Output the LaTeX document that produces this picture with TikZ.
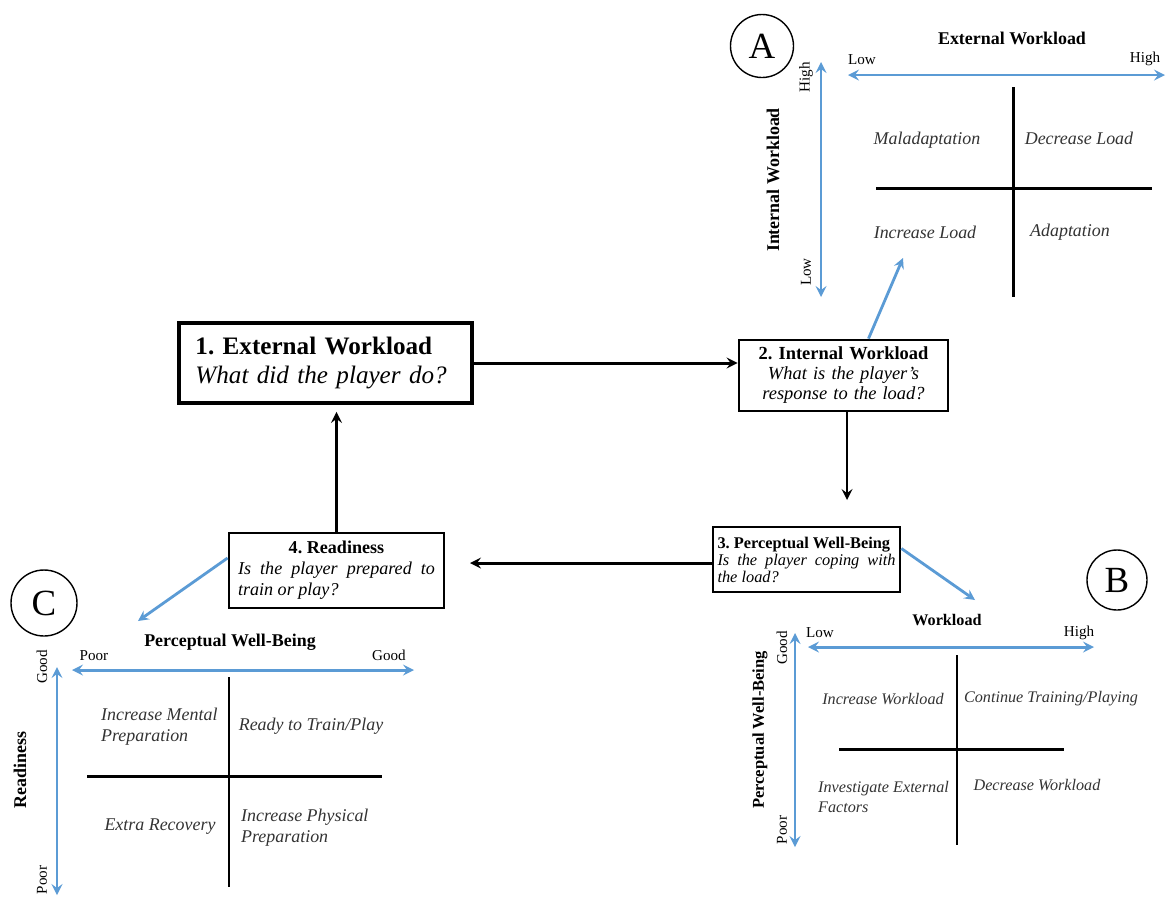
\documentclass[tikz,border=0pt]{standalone}
\usepackage{fontspec}
\setmainfont{Liberation Serif}
\usetikzlibrary{positioning}
\definecolor{axisblue}{RGB}{91,155,213}
\frenchspacing
\tikzset{
  box/.style={draw, fill=white, line width=1.6pt, inner xsep=0.6mm},
  flow/.style={->, line width=1.7pt},
  link/.style={->, axisblue, line width=1.6pt},
  axis/.style={<->, axisblue, line width=1.7pt},
  quad/.style={line width=1.7pt},
  panel/.style={circle, draw, line width=0.8pt, minimum size=12.6mm, inner sep=0pt,
    font=\fontsize{21}{21}\selectfont},
  ttl/.style={font=\fontsize{10.2}{12}\selectfont\bfseries},
  endlbl/.style={font=\fontsize{8.6}{10}\selectfont},
  cell/.style={font=\fontsize{10.2}{12}\selectfont\itshape, align=left, text=black!80},
  cellb/.style={font=\fontsize{9.2}{11}\selectfont\itshape, align=left, text=black!80}
}
\begin{document}
\begin{tikzpicture}[x=0.2mm,y=-0.2mm,>=stealth]
  \useasboundingbox (0,0) rectangle (1167,897);
  % cycle of the four boxes
  \node[box, line width=2.2pt, minimum width=58.6mm, minimum height=16mm, text width=52mm, align=left,
    font=\fontsize{14.3}{17}\selectfont] (extload) at (325.5,363)
    {\textbf{1. External Workload}\\\textit{What did the player do?}};
  \node[box, minimum width=41.8mm, minimum height=14.2mm, text width=39mm, align=center,
    font=\fontsize{10.5}{11.4}\selectfont] (intload) at (843.5,375.5)
    {\textbf{2. Internal Workload}\\\textit{What is the player’s}\\\textit{response to the load?}};
  \node[box, minimum width=37.4mm, minimum height=13mm, text width=35.6mm, align=justify,
    font=\fontsize{9.3}{9.7}\selectfont] (wellbeing) at (806.5,559.5)
    {\textbf{3. Perceptual Well-Being}\par\itshape Is the player coping with\linebreak the load?};
  \node[box, minimum width=43mm, minimum height=15mm, text width=39.4mm, align=justify,
    font=\fontsize{10.3}{11.9}\selectfont] (readiness) at (336.5,570.5)
    {{\centering\bfseries 4. Readiness\par}\itshape Is the player prepared to\linebreak train or play?};
  \coordinate (bend) at (847,500);
  \coordinate (stop4) at (470,563);
  \draw[flow] (extload.east) -- (extload.east -| intload.west);
  \draw[flow] (bend |- intload.south) -- (bend);
  \draw[flow] (stop4 -| wellbeing.west) -- (stop4);
  \draw[flow, shorten >=4pt] (readiness.north) -- (readiness.north |- extload.south);
  % links to the panels
  \coordinate (toA) at (903,258);
  \coordinate (toB) at (975,600);
  \coordinate (toC) at (138,621);
  \draw[link] ([xshift=5mm]intload.north) -- (toA);
  \draw[link] ([yshift=2.2mm]wellbeing.east) -- (toB);
  \draw[link] ([yshift=2.5mm]readiness.west) -- (toC);
  % panel A
  \node[panel] (circA) at (762,46) {A};
  \node[ttl] (titleA) at (1012,38) {External Workload};
  \draw[axis] (848,75) -- (1165,75);
  \node[endlbl] (lowA) at (862,60) {Low};
  \node[endlbl] (highA) at (1145,59) {High};
  \draw[axis] (821,62) -- (821,297);
  \node[endlbl, rotate=90] (upA) at (806,77) {High};
  \node[endlbl, rotate=90] (dnA) at (806,272) {Low};
  \node[ttl, rotate=90] (sideA) at (773,180) {Internal Workload};
  \draw[quad] (1013,87) -- (1013,297);
  \draw[quad] (876,188) -- (1152,188);
  \node[cell] (malad) at (927,140) {Maladaptation};
  \node[cell] (decA) at (1079,138) {Decrease Load};
  \node[cell] (incA) at (925,232) {Increase Load};
  \node[cell] (adapt) at (1070,232) {Adaptation};
  % panel B
  \node[panel, minimum size=12mm] (circB) at (1117,580) {B};
  \node[ttl, font=\fontsize{9.2}{11}\selectfont\bfseries] (titleB) at (947,620) {Workload};
  \draw[axis] (808,647) -- (1094,647);
  \node[endlbl] (lowB) at (820,633) {Low};
  \node[endlbl] (highB) at (1079,633) {High};
  \draw[axis] (795,633) -- (795,847);
  \node[endlbl, rotate=90] (upB) at (782,648) {Good};
  \node[endlbl, rotate=90] (dnB) at (782,830) {Poor};
  \node[ttl, rotate=90, font=\fontsize{9.4}{11}\selectfont\bfseries] (sideB) at (760,730) {Perceptual Well-Being};
  \draw[quad] (957,655) -- (957,845);
  \draw[quad] (839,749) -- (1064,749);
  \node[cellb] (incB) at (883,699) {Increase Workload};
  \node[cellb] (contB) at (1051,699) {Continue Training/Playing};
  \node[cellb, anchor=west] (invB) at (812,797) {Investigate External\\Factors};
  \node[cellb] (decB) at (1037,785) {Decrease Workload};
  % panel C
  \node[panel, minimum size=13.2mm] (circC) at (44,603) {C};
  \node[ttl] (titleC) at (230,642) {Perceptual Well-Being};
  \draw[axis] (72,670) -- (414,670);
  \node[endlbl] (lowC) at (94,656) {Poor};
  \node[endlbl] (highC) at (389,655) {Good};
  \draw[axis] (57,667) -- (57,895);
  \node[endlbl, rotate=90] (upC) at (42,667) {Good};
  \node[endlbl, rotate=90] (dnC) at (42,880) {Poor};
  \node[ttl, rotate=90] (sideC) at (20,770) {Readiness};
  \draw[quad] (229,677) -- (229,887);
  \draw[quad] (87,776) -- (382,776);
  \node[cell, anchor=west] (mental) at (95,727) {Increase Mental\\Preparation};
  \node[cell] (ready) at (311,726) {Ready to Train/Play};
  \node[cell] (extra) at (160,827) {Extra Recovery};
  \node[cell, anchor=west] (phys) at (235,828) {Increase Physical\\Preparation};
\end{tikzpicture}
\end{document}
